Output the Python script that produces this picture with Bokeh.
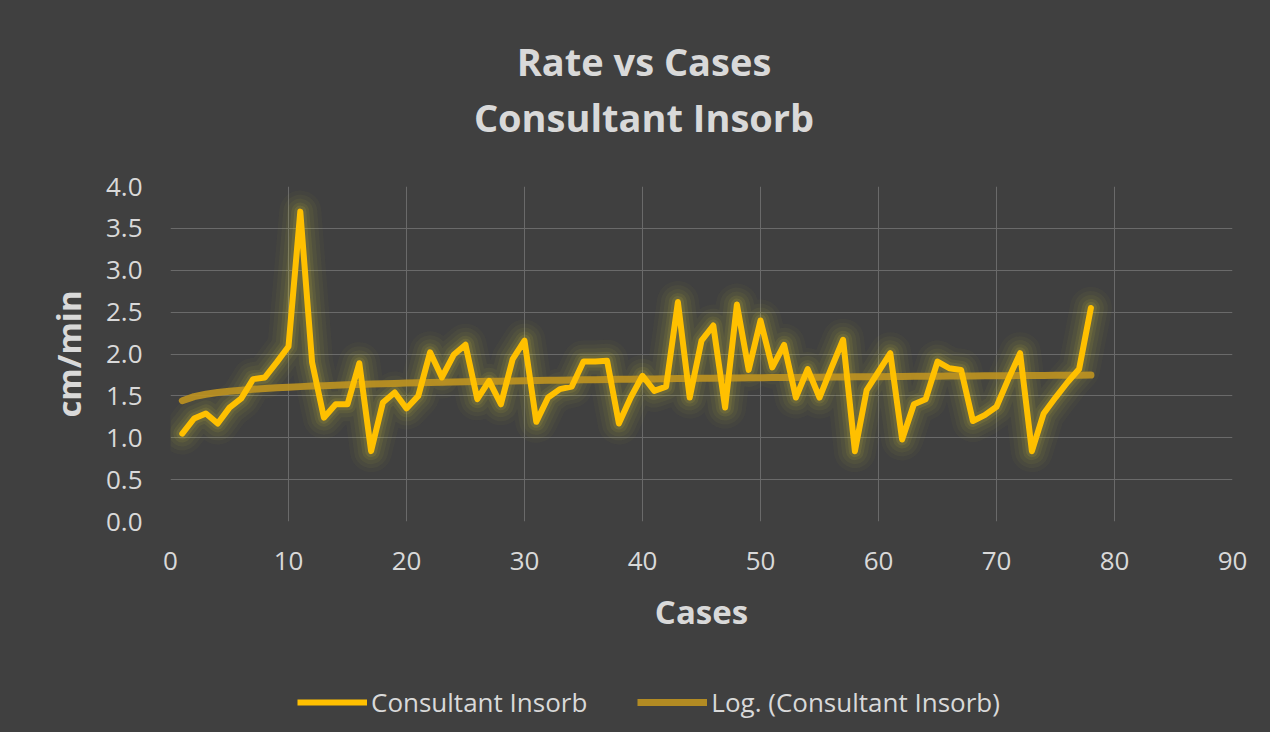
import numpy as np
from bokeh.plotting import figure
from bokeh.layouts import column
from bokeh.models import (Legend, LegendItem, FixedTicker, Range1d, Div,
                          PrintfTickFormatter, ColumnDataSource)
from bokeh.embed import file_html
from bokeh.resources import INLINE

# ---- data ----
cases = list(range(1, 79))
rate = [1.05, 1.23, 1.29, 1.17, 1.36, 1.47, 1.70, 1.72, 1.90, 2.09,
        3.70, 1.90, 1.24, 1.40, 1.40, 1.89, 0.84, 1.42, 1.54, 1.35,
        1.50, 2.02, 1.72, 1.99, 2.11, 1.46, 1.68, 1.40, 1.94, 2.16,
        1.19, 1.48, 1.58, 1.61, 1.91, 1.91, 1.92, 1.17, 1.48, 1.74,
        1.56, 1.61, 2.62, 1.48, 2.16, 2.34, 1.36, 2.59, 1.81, 2.40,
        1.84, 2.11, 1.48, 1.82, 1.48, 1.83, 2.17, 0.84, 1.57, 1.79,
        2.01, 0.98, 1.40, 1.46, 1.91, 1.83, 1.81, 1.20, 1.27, 1.37,
        1.70, 2.01, 0.84, 1.29, 1.48, 1.66, 1.82, 2.55]
x_ticks = [0, 10, 20, 30, 40, 50, 60, 70, 80, 90]
y_ticks = [0.0, 0.5, 1.0, 1.5, 2.0, 2.5, 3.0, 3.5, 4.0]
title_lines = ["Rate vs Cases", "Consultant Insorb"]
series_name = "Consultant Insorb"
trend_name = "Log. (Consultant Insorb)"

# logarithmic trendline fitted to the data (as Excel does)
xa = np.array(cases, dtype=float)
a, b = np.polyfit(np.log(xa), np.array(rate), 1)
trend = list(a * np.log(xa) + b)

BG = "#404040"
TXT = "#d9d9d9"
GRID = "#6a6a6a"
GOLD = "#FFC000"
TREND = "#BF9420"
GLOW = "#d2c83a"
FONT = "Open Sans"
W = 1270

src = ColumnDataSource(dict(x=cases, y=rate, t=trend))

# ---- title block ----
title_html = "".join(f"<div>{t}</div>" for t in title_lines)
title = Div(text=title_html, width=W, height=150, margin=0,
            styles={"background-color": BG, "color": TXT,
                    "font-family": FONT, "font-weight": "bold",
                    "font-size": "38px", "line-height": "56px",
                    "text-align": "center", "padding-top": "33px",
                    "padding-left": "18px", "box-sizing": "border-box"})

# ---- main chart ----
p = figure(width=W, height=510, output_backend="svg", toolbar_location=None,
           x_range=Range1d(0, 90), y_range=Range1d(0, 4),
           min_border_left=170, min_border_right=38,
           min_border_top=36, min_border_bottom=139, margin=0,
           background_fill_color=BG, border_fill_color=BG)
p.outline_line_color = None

for g in (p.xgrid, p.ygrid):
    g.grid_line_color = GRID
    g.grid_line_width = 1
p.xgrid.ticker = FixedTicker(ticks=x_ticks)
p.ygrid.ticker = FixedTicker(ticks=y_ticks)

for ax in (p.xaxis, p.yaxis):
    ax.axis_line_color = None
    ax.major_tick_line_color = None
    ax.minor_tick_line_color = None
    ax.major_tick_out = 0
    ax.major_tick_in = 0
    ax.major_label_text_font = FONT
    ax.major_label_text_font_size = "26px"
    ax.major_label_text_color = TXT
    ax.axis_label_text_font = FONT
    ax.axis_label_text_font_size = "33px"
    ax.axis_label_text_font_style = "bold"
    ax.axis_label_text_color = TXT
p.xaxis.ticker = FixedTicker(ticks=x_ticks)
p.yaxis.ticker = FixedTicker(ticks=y_ticks)
p.yaxis.formatter = PrintfTickFormatter(format="%.1f")
p.xaxis.axis_label = "Cases"
p.yaxis.axis_label = "cm/min"
p.xaxis.major_label_standoff = 30
p.yaxis.major_label_standoff = 28
p.xaxis.axis_label_standoff = 16
p.yaxis.axis_label_standoff = 12

# soft glow around main series
for w, al in ((42, 0.035), (34, 0.045), (26, 0.06), (18, 0.09), (12, 0.12)):
    p.line("x", "y", source=src, line_width=w, line_color=GLOW,
           line_alpha=al, line_join="round", line_cap="round")

p.line("x", "t", source=src, line_width=7, line_color=TREND,
       line_alpha=0.9, line_cap="round")
p.line("x", "y", source=src, line_width=6, line_color=GOLD,
       line_join="round", line_cap="round")

# ---- legend strip below the chart ----
pl = figure(width=W, height=72, output_backend="svg", toolbar_location=None,
            x_range=Range1d(-2, -1), y_range=Range1d(0, 1),
            x_axis_type=None, y_axis_type=None, margin=0,
            min_border_left=170, min_border_right=38,
            min_border_top=0, min_border_bottom=0,
            background_fill_color=BG, border_fill_color=BG)
pl.outline_line_color = None
lm = pl.line("x", "y", source=src, line_width=6, line_color=GOLD)
lt = pl.line("x", "t", source=src, line_width=7, line_color=TREND,
             line_alpha=0.9)
legend = Legend(items=[LegendItem(label=series_name, renderers=[lm]),
                       LegendItem(label=trend_name, renderers=[lt])],
                orientation="horizontal", location=(127, 12),
                label_text_font=FONT, label_text_font_size="26px",
                label_text_color=TXT, glyph_width=70, glyph_height=24,
                spacing=50, label_standoff=4,
                background_fill_alpha=0, border_line_alpha=0,
                margin=0, padding=0)
pl.add_layout(legend, "center")

layout = column(title, p, pl, spacing=0,
                styles={"background-color": BG})
open("out.html", "w").write(file_html(layout, INLINE))
